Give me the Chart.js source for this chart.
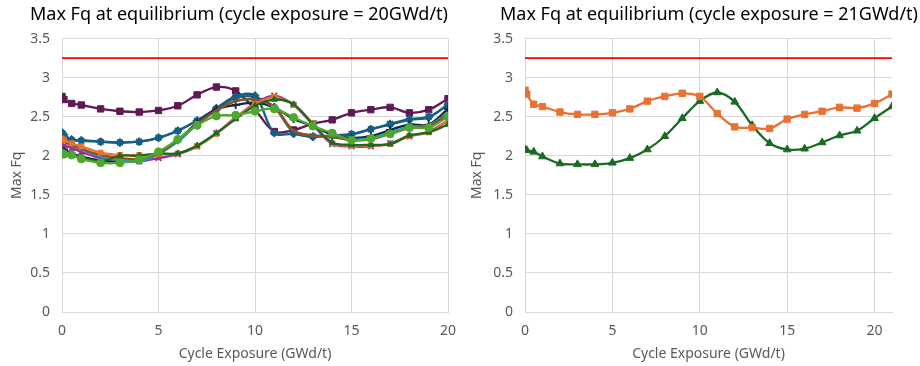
<!DOCTYPE html>
<html>
<head>
<meta charset="utf-8">
<script src="https://cdn.jsdelivr.net/npm/chart.js@4"></script>
<style>
  body { margin: 0; background: #fff; }
  .box { position: absolute; top: 0; width: 460px; height: 366px; }
</style>
</head>
<body>
<div class="box" style="left:0"><canvas id="chartA" width="460" height="366"></canvas></div>
<div class="box" style="left:460px"><canvas id="chartB" width="460" height="366"></canvas></div>
<script>
// exposure points (GWd/t)
var xLeft = [0, 0.1, 0.5, 1, 2, 3, 4, 5, 6, 7, 8, 9, 10, 11, 12, 13, 14, 15, 16, 17, 18, 19, 20];
var xRight = [0, 0.1, 0.5, 1, 2, 3, 4, 5, 6, 7, 8, 9, 10, 11, 12, 13, 14, 15, 16, 17, 18, 19, 20, 21];
var limitFq = 3.25;

// left chart series (cycle exposure = 20GWd/t)
var purpleSq  = [2.76, 2.72, 2.67, 2.65, 2.60, 2.57, 2.56, 2.58, 2.64, 2.78, 2.88, 2.83, 2.59, 2.31, 2.33, 2.41, 2.46, 2.55, 2.59, 2.62, 2.55, 2.59, 2.73];
var tealDia   = [2.30, 2.27, 2.21, 2.20, 2.18, 2.17, 2.18, 2.23, 2.32, 2.45, 2.61, 2.76, 2.77, 2.29, 2.28, 2.24, 2.26, 2.27, 2.34, 2.40, 2.46, 2.49, 2.66];
var tealStar  = [2.28, 2.24, 2.20, 2.19, 2.18, 2.17, 2.18, 2.23, 2.32, 2.45, 2.60, 2.74, 2.75, 2.62, 2.30, 2.25, 2.26, 2.28, 2.34, 2.41, 2.47, 2.50, 2.65];
var navyPlus  = [2.10, 2.08, 2.03, 1.99, 1.94, 1.93, 1.94, 2.03, 2.20, 2.42, 2.59, 2.65, 2.68, 2.62, 2.47, 2.38, 2.27, 2.23, 2.25, 2.33, 2.40, 2.40, 2.60];
var brownLn   = [2.20, 2.18, 2.14, 2.09, 2.01, 1.97, 1.96, 2.03, 2.20, 2.41, 2.58, 2.70, 2.72, 2.63, 2.32, 2.26, 2.24, 2.20, 2.21, 2.28, 2.35, 2.38, 2.53];
var orangeSq  = [2.22, 2.20, 2.16, 2.12, 2.04, 2.01, 2.01, 2.02, 2.03, 2.12, 2.28, 2.49, 2.66, 2.75, 2.65, 2.42, 2.16, 2.13, 2.13, 2.15, 2.25, 2.30, 2.45];
var magentaX  = [2.15, 2.13, 2.10, 2.05, 1.97, 1.94, 1.93, 1.97, 2.02, 2.12, 2.29, 2.49, 2.67, 2.77, 2.65, 2.40, 2.15, 2.12, 2.12, 2.16, 2.25, 2.31, 2.45];
var cyanLn    = [2.20, 2.18, 2.13, 2.08, 1.99, 1.94, 1.93, 2.02, 2.18, 2.40, 2.58, 2.70, 2.72, 2.62, 2.32, 2.26, 2.25, 2.20, 2.23, 2.30, 2.37, 2.39, 2.55];
var greenCirc = [2.03, 2.02, 2.01, 1.96, 1.91, 1.91, 1.95, 2.05, 2.21, 2.39, 2.51, 2.52, 2.57, 2.60, 2.49, 2.38, 2.29, 2.20, 2.22, 2.28, 2.36, 2.36, 2.50];
var dGreenTri = [2.05, 2.04, 2.02, 1.98, 1.93, 2.00, 2.00, 2.03, 2.03, 2.13, 2.29, 2.47, 2.64, 2.72, 2.66, 2.40, 2.17, 2.14, 2.14, 2.15, 2.26, 2.30, 2.40];

// right chart series (cycle exposure = 21GWd/t)
var orangeR = [2.84, 2.79, 2.66, 2.63, 2.56, 2.53, 2.53, 2.55, 2.60, 2.70, 2.76, 2.80, 2.76, 2.54, 2.37, 2.36, 2.35, 2.47, 2.53, 2.57, 2.62, 2.61, 2.67, 2.79];
var greenR  = [2.08, 2.07, 2.05, 1.99, 1.90, 1.89, 1.89, 1.91, 1.97, 2.08, 2.25, 2.48, 2.70, 2.81, 2.69, 2.39, 2.16, 2.08, 2.09, 2.17, 2.26, 2.32, 2.48, 2.63];

var xTicks = [0, 5, 10, 15, 20];
var yTicks = [0, 0.5, 1, 1.5, 2, 2.5, 3, 3.5];

Chart.defaults.font.family = "'Noto Sans', 'Open Sans', sans-serif";
Chart.defaults.animation = false;

function pts(xs, ys) {
  var out = [];
  for (var i = 0; i < ys.length; i++) out.push({x: xs[i], y: ys[i]});
  return out;
}

function series(xs, ys, color, style, size) {
  return {
    data: pts(xs, ys),
    borderColor: color,
    backgroundColor: color,
    borderWidth: 2.3,
    pointStyle: style,
    pointRadius: size,
    pointBorderWidth: style == 'cross' || style == 'crossRot' || style == 'star' ? 1.8 : 1,
    tension: 0.35
  };
}

function limitLine(xmax) {
  return {
    data: [{x: 0, y: limitFq}, {x: xmax, y: limitFq}],
    borderColor: '#ff0000',
    borderWidth: 1.6,
    pointRadius: 0,
    tension: 0
  };
}

// gap: empty space kept right of the plot by a blank right-hand axis,
// so the title can still run up to the canvas edge
function makeChart(id, title, datasets, xmax, yWidth, padRight, gap) {
  new Chart(id, {
    type: 'line',
    data: {datasets: datasets},
    options: {
      responsive: false,
      layout: {padding: {top: 0, right: padRight, bottom: 0, left: 9}},
      plugins: {
        legend: {display: false},
        tooltip: {enabled: false},
        title: {
          display: true,
          align: 'end',
          text: title,
          color: '#000',
          font: {size: 18, weight: 'normal'},
          padding: {top: 4, bottom: 13}
        }
      },
      scales: {
        x: {
          type: 'linear',
          min: 0,
          max: xmax,
          afterBuildTicks: function(s) { s.ticks = xTicks.map(function(v) { return {value: v}; }); },
          afterFit: function(s) { s.height = 54; s.paddingLeft = 0; s.paddingRight = 0; },
          ticks: {color: '#595959', font: {size: 14}, padding: 11, maxRotation: 0},
          grid: {color: '#d9d9d9', drawTicks: false},
          border: {color: '#d9d9d9'},
          title: {display: true, text: 'Cycle Exposure (GWd/t)', color: '#595959', font: {size: 14}, padding: {top: 4}}
        },
        y: {
          min: 0,
          max: 3.5,
          afterBuildTicks: function(s) { s.ticks = yTicks.map(function(v) { return {value: v}; }); },
          afterFit: function(s) { s.width = yWidth; },
          ticks: {color: '#595959', font: {size: 14}, padding: 12, callback: function(v) { return String(v); }},
          grid: {color: '#d9d9d9', drawTicks: false},
          border: {display: false},
          title: {display: true, text: 'Max Fq', color: '#595959', font: {size: 14}, padding: 0}
        },
        yGap: {
          position: 'right',
          display: gap > 0,
          min: 0,
          max: 3.5,
          afterFit: function(s) { s.width = gap; },
          ticks: {display: false},
          grid: {display: false},
          border: {display: false}
        }
      }
    }
  });
}

makeChart('chartA', 'Max Fq at equilibrium (cycle exposure = 20GWd/t)', [
  limitLine(20),
  series(xLeft, greenCirc, '#4ea72e', 'circle', 4),
  series(xLeft, dGreenTri, '#196b24', 'triangle', 3.5),
  series(xLeft, orangeSq, '#e97132', 'rect', 3.5),
  series(xLeft, brownLn, '#9c4a12', 'circle', 0),
  series(xLeft, cyanLn, '#0f9ed5', 'circle', 0),
  series(xLeft, magentaX, '#a02b93', 'crossRot', 4),
  series(xLeft, navyPlus, '#0e2841', 'cross', 4),
  series(xLeft, tealStar, '#156082', 'star', 4),
  series(xLeft, tealDia, '#156082', 'rectRot', 4),
  series(xLeft, purpleSq, '#5f1a55', 'rect', 4.5)
], 20, 53, 12, 0);

makeChart('chartB', 'Max Fq at equilibrium (cycle exposure = 21GWd/t)', [
  limitLine(21),
  series(xRight, orangeR, '#e97132', 'rect', 4.5),
  series(xRight, greenR, '#196b24', 'triangle', 4.5)
], 21, 56, 2, 26);
</script>
</body>
</html>
